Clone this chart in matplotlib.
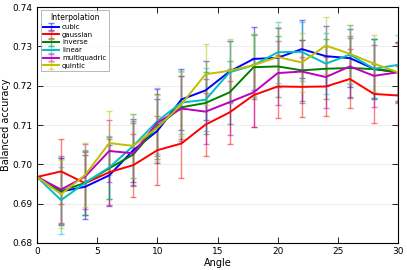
import matplotlib.pyplot as plt

angles = [0, 2, 4, 6, 8, 10, 12, 14, 16, 18, 20, 22, 24, 26, 28, 30]

names = ['cubic', 'gaussian', 'inverse', 'linear', 'multiquadric', 'quintic']
colors = ['#0000ff', '#ff0000', '#008000', '#00bfbf', '#bf00bf', '#bfbf00']

cubic = [0.6968, 0.6931, 0.6943, 0.6972, 0.7036, 0.7085, 0.7165, 0.7188, 0.7236, 0.7268,
         0.7271, 0.7293, 0.7275, 0.7270, 0.7243, 0.7234]
gaussian = [0.6968, 0.6982, 0.6952, 0.6980, 0.6998, 0.7036, 0.7053, 0.7101, 0.7132, 0.7176,
            0.7198, 0.7197, 0.7198, 0.7217, 0.7179, 0.7175]
inverse = [0.6968, 0.6932, 0.6953, 0.6990, 0.7025, 0.7097, 0.7145, 0.7156, 0.7183, 0.7247,
           0.7249, 0.7239, 0.7243, 0.7245, 0.7242, 0.7234]
linear = [0.6968, 0.6909, 0.6953, 0.6992, 0.7047, 0.7110, 0.7157, 0.7164, 0.7234, 0.7252,
          0.7285, 0.7286, 0.7256, 0.7279, 0.7243, 0.7253]
multiquadric = [0.6968, 0.6936, 0.6969, 0.7034, 0.7028, 0.7106, 0.7142, 0.7134, 0.7158, 0.7183,
                0.7232, 0.7236, 0.7222, 0.7249, 0.7225, 0.7234]
quintic = [0.6968, 0.6924, 0.6973, 0.7054, 0.7047, 0.7093, 0.7153, 0.7229, 0.7238, 0.7252,
           0.7273, 0.7259, 0.7302, 0.7281, 0.7256, 0.7234]

cubic_err = [0.0, 0.0084, 0.0081, 0.0078, 0.0080, 0.0082, 0.0078, 0.0076, 0.0078, 0.0080,
             0.0075, 0.0073, 0.0076, 0.0074, 0.0075, 0.0074]
gaussian_err = [0.0, 0.0082, 0.0080, 0.0084, 0.0080, 0.0088, 0.0087, 0.0081, 0.0081, 0.0080,
                0.0079, 0.0076, 0.0074, 0.0075, 0.0075, 0.0076]
inverse_err = [0.0, 0.0083, 0.0082, 0.0079, 0.0081, 0.0083, 0.0080, 0.0079, 0.0080, 0.0081,
               0.0078, 0.0077, 0.0076, 0.0076, 0.0077, 0.0076]
linear_err = [0.0, 0.0085, 0.0083, 0.0080, 0.0082, 0.0084, 0.0081, 0.0080, 0.0079, 0.0080,
              0.0077, 0.0075, 0.0077, 0.0075, 0.0076, 0.0075]
multiquadric_err = [0.0, 0.0084, 0.0082, 0.0080, 0.0081, 0.0085, 0.0083, 0.0083, 0.0084, 0.0087,
                    0.0081, 0.0079, 0.0080, 0.0078, 0.0079, 0.0078]
quintic_err = [0.0, 0.0086, 0.0082, 0.0081, 0.0082, 0.0084, 0.0082, 0.0078, 0.0080, 0.0079,
               0.0076, 0.0075, 0.0073, 0.0074, 0.0073, 0.0074]

values = [cubic, gaussian, inverse, linear, multiquadric, quintic]
errors = [cubic_err, gaussian_err, inverse_err, linear_err, multiquadric_err, quintic_err]

plt.rcParams['font.family'] = 'DejaVu Sans'
fig = plt.figure(figsize=(4.07, 2.7), dpi=100)
ax = fig.add_axes([0.091, 0.1, 0.887, 0.874])

for name, c, v, e in zip(names, colors, values, errors):
    line, caps, bars = ax.errorbar(angles, v, yerr=e, color=c, lw=1.4, elinewidth=1,
                                   capsize=2, capthick=1, label=name)
    for b in bars:
        b.set_alpha(0.5)
    for cp in caps:
        cp.set_alpha(0.5)

ax.set_xlim(0, 30)
ax.set_ylim(0.68, 0.74)
ax.set_xticks([0, 5, 10, 15, 20, 25, 30])
ax.set_yticks([0.68, 0.69, 0.70, 0.71, 0.72, 0.73, 0.74])
ax.yaxis.grid(True, color='#eeeeee', lw=0.8)
ax.set_axisbelow(True)
ax.tick_params(direction='in', top=True, right=True, labelsize=6.5, length=4, width=0.6, pad=3)
for s in ax.spines.values():
    s.set_linewidth(0.8)
ax.set_xlabel('Angle', fontsize=7, labelpad=1)
ax.set_ylabel('Balanced accuracy', fontsize=7, labelpad=1)
ax.yaxis.set_label_coords(-0.072, 0.5)

leg = ax.legend(title='Interpolation', loc='upper left', fontsize=5, title_fontsize=5.5,
                fancybox=False, edgecolor='#999999', handlelength=2.2, labelspacing=0.25,
                borderpad=0.4, handletextpad=0.5)
leg.get_frame().set_linewidth(0.6)

fig.savefig('out.png', dpi=100)
